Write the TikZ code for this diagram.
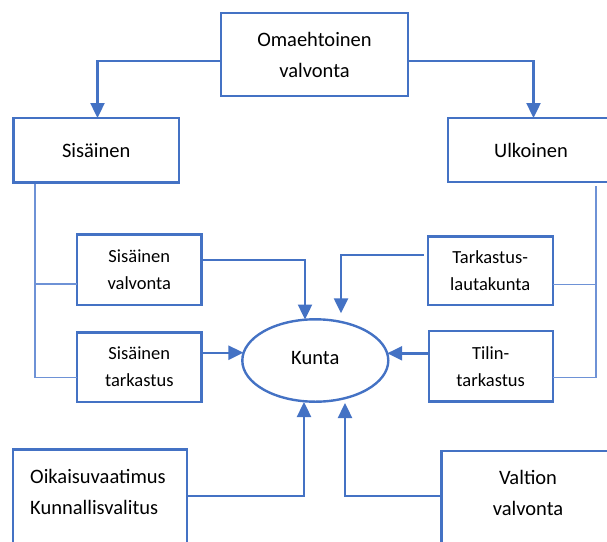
\documentclass[tikz,border=0pt]{standalone}
\usepackage{fontspec}
\setmainfont{Carlito}
\usetikzlibrary{arrows.meta,shapes.geometric}
\definecolor{frame}{HTML}{4472C4}
\definecolor{thinblue}{HTML}{6E92D6}
\tikzset{
  box/.style={draw=frame, line width=2.4pt, rectangle, inner sep=0pt, outer sep=0pt, align=center},
  oval/.style={draw=frame, line width=2.4pt, ellipse, inner sep=0pt, outer sep=0pt},
  bigtxt/.style={font=\fontsize{20.5}{31}\selectfont},
  smalltxt/.style={font=\fontsize{18.5}{27}\selectfont},
  flow/.style={draw=frame, line width=2.4pt, -{Triangle[length=15pt,width=14pt]}},
  tie/.style={draw=thinblue, line width=1.1pt},
}
\begin{document}
\begin{tikzpicture}[x=1pt,y=-1pt]
\useasboundingbox (0,0) rectangle (607,541);
\clip (0,0) rectangle (607,541);

% thin links from the two groups to their members
\draw[tie] (35,182.5) -- (35,377.7);
\draw[tie] (596,186) -- (596,377.7);

% boxes
\node[box, bigtxt, minimum width=187pt, minimum height=83pt] (omae) at (314.5,54.5) {Omaehtoinen\\valvonta};
\node[box, bigtxt, minimum width=165.5pt, minimum height=64.5pt] (sis) at (96.25,150.25) {Sisäinen};
\node[box, bigtxt, minimum width=166pt, minimum height=64pt] (ulk) at (531,150) {Ulkoinen};

\node[box, smalltxt, minimum width=124.7pt, minimum height=70.7pt] (sval) at (139.3,269.7) {Sisäinen\\valvonta};
\node[box, smalltxt, minimum width=124.7pt, minimum height=69.4pt] (star) at (139.3,367) {Sisäinen\\tarkastus};
\node[box, smalltxt, minimum width=125pt, minimum height=68.3pt] (tlk) at (490.2,270.8) {Tarkastus-\\lautakunta};
\node[box, smalltxt, minimum width=124pt, minimum height=70.7pt] (tilin) at (490.7,366.3) {Tilin-\\tarkastus};

\node[oval, minimum width=146pt, minimum height=82.4pt] (kunta) at (315.3,360.5) {};
\node[bigtxt, inner sep=0pt] (kuntatxt) at (315.3,358) {Kunta};

\node[box, minimum width=174.2pt, minimum height=130pt, anchor=north west] (oik) at (12.8,449.3) {};
\node[bigtxt, align=left, anchor=west, inner sep=0pt] (oiktxt) at (30,492) {Oikaisuvaatimus\\Kunnallisvalitus};
\node[box, minimum width=173.4pt, minimum height=130pt, anchor=north west] (vv) at (441.3,451) {};
\node[bigtxt, align=center, inner sep=0pt] (vvtxt) at (528,493) {Valtion\\valvonta};

% horizontal ties to the group lines
\draw[tie] ([yshift=-14.3pt]sval.west) -- (35,284);
\draw[tie] ([yshift=-10.7pt]star.west) -- (35,377.7);
\draw[tie] ([yshift=-13.5pt]tlk.east) -- (596,284.3);
\draw[tie] ([yshift=-11.4pt]tilin.east) -- (596,377.7);

% arrow end points at the municipality
\coordinate (k1) at (305,319.5);
\coordinate (k2) at (341,313.3);
\coordinate (k3) at (243.4,352.7);
\coordinate (k4) at (387.2,353.3);
\coordinate (k5) at (304,402);
\coordinate (k6) at (345,403);

% arrows
\draw[flow] ([yshift=-6.5pt]omae.west) -| ([xshift=1.25pt]sis.north);
\draw[flow] ([yshift=-6.5pt]omae.east) -| ([xshift=2.5pt]ulk.north);
\draw[flow] ([yshift=9.7pt]sval.east) -| (k1);
\draw[flow] ([yshift=15.8pt,xshift=-4pt]tlk.west) -| (k2);
\draw[flow] ([yshift=14.3pt]star.east) -- (k3);
\draw[flow] ([yshift=13pt]tilin.west) -- (k4);
\draw[flow] ([yshift=18.3pt]oik.east) -| (k5);
\draw[flow] ([yshift=20pt]vv.west) -| (k6);
\end{tikzpicture}
\end{document}
